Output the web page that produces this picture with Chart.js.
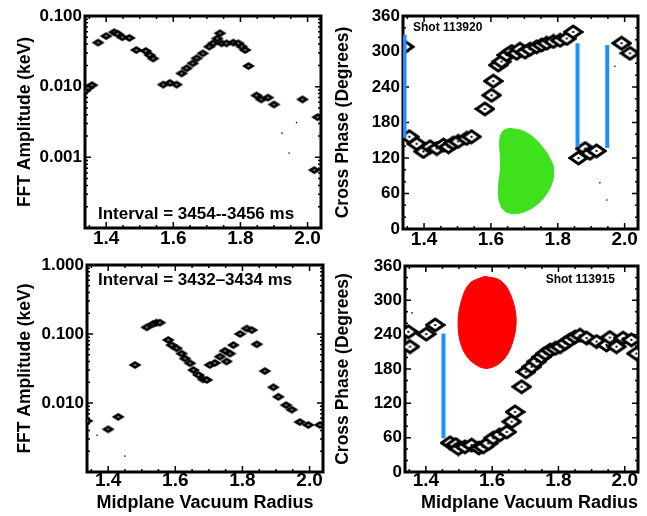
<!DOCTYPE html>
<html>
<head>
<meta charset="utf-8">
<script src="https://cdn.jsdelivr.net/npm/chart.js@4.4.1/dist/chart.umd.min.js"></script>
<style>
  body { margin: 0; background: #fff; }
  #page { position: relative; width: 647px; height: 516px; overflow: hidden; }
  .panel { position: absolute; }
</style>
</head>
<body>
<div id="page">
  <div class="panel" style="left:0;top:0"><canvas id="ampTop" width="330" height="250"></canvas></div>
  <div class="panel" style="left:330px;top:0"><canvas id="phaseTop" width="317" height="250"></canvas></div>
  <div class="panel" style="left:0;top:250px"><canvas id="ampBottom" width="330" height="266"></canvas></div>
  <div class="panel" style="left:330px;top:250px"><canvas id="phaseBottom" width="317" height="266"></canvas></div>
</div>
<script>
// Radius axis, shared by the four panels
const radiusMin = 1.337;
const radiusMax = 2.04;
const radiusTicks = [1.4, 1.6, 1.8, 2.0];

// Top left: FFT amplitude, 3454--3456 ms
const ampTopR = [1.338, 1.346, 1.358, 1.376, 1.400, 1.424, 1.434, 1.448, 1.469, 1.490, 1.518, 1.530, 1.540,
  1.570, 1.590, 1.610, 1.625, 1.640, 1.658, 1.670, 1.688, 1.707, 1.719, 1.731, 1.739, 1.744, 1.759, 1.779,
  1.794, 1.804, 1.814, 1.824, 1.848, 1.862, 1.882, 1.900, 1.985, 2.030, 2.020];
const ampTopV = [0.0088, 0.0096, 0.0105, 0.042, 0.052, 0.059, 0.056, 0.050, 0.049, 0.033, 0.032, 0.028, 0.025,
  0.0107, 0.0113, 0.0107, 0.0154, 0.0182, 0.0214, 0.0252, 0.0296, 0.0368, 0.041, 0.048, 0.057, 0.041, 0.041, 0.042,
  0.041, 0.037, 0.033, 0.0196, 0.0075, 0.0066, 0.0070, 0.0056, 0.0066, 0.0037, 0.00066];
const ampTopDotR = [1.924, 1.945, 1.967];
const ampTopDotV = [0.0022, 0.00115, 0.0031];
const ampTopTicks = [0.001, 0.01, 0.1];

// Top right: cross phase, shot 113920
const phaseTopR = [1.341, 1.356, 1.378, 1.398, 1.418, 1.438, 1.458, 1.473, 1.487, 1.502, 1.527, 1.542,
  1.582, 1.602, 1.607, 1.622, 1.632, 1.647, 1.662, 1.677, 1.687, 1.702, 1.717, 1.737, 1.752, 1.767, 1.787,
  1.807, 1.827, 1.846, 1.862, 1.882, 1.896, 1.916, 1.991, 2.016];
const phaseTopV = [308, 156, 144, 131, 139, 136, 142, 139, 145, 148, 153, 156,
  203, 226, 250, 277, 283, 294, 300, 297, 304, 299, 304, 308, 311, 314, 317,
  319, 322, 333, 120, 136, 128, 132, 314, 297];
const phaseTopDotR = [1.971, 1.926, 1.947];
const phaseTopDotV = [275, 78, 49];
const phaseTopJumps = [[1.3415, 154, 328], [1.859, 139, 314], [1.948, 137, 311]];
const greenR = [1.657, 1.690, 1.725, 1.755, 1.778, 1.788, 1.783, 1.765, 1.735, 1.700, 1.667, 1.640, 1.626,
  1.622, 1.625, 1.629, 1.628, 1.626, 1.630, 1.642, 1.657];
const greenV = [170, 167, 156, 138, 118, 100, 78, 58, 40, 29, 26, 31, 45,
  62, 85, 105, 125, 145, 160, 168, 170];

// Bottom left: FFT amplitude, 3432-3434 ms
const ampBottomR = [1.337, 1.400, 1.430, 1.480, 1.515, 1.534, 1.544, 1.554, 1.579, 1.589, 1.604, 1.619, 1.629,
  1.644, 1.654, 1.669, 1.683, 1.694, 1.703, 1.718, 1.733, 1.748, 1.753, 1.763, 1.773, 1.793, 1.813, 1.828,
  1.843, 1.867, 1.892, 1.907, 1.930, 1.947, 1.971, 1.996, 2.031];
const ampBottomV = [0.0055, 0.00416, 0.0063, 0.0356, 0.125, 0.140, 0.146, 0.146, 0.082, 0.069, 0.062, 0.052, 0.044,
  0.0376, 0.030, 0.0255, 0.022, 0.0216, 0.0356, 0.038, 0.047, 0.057, 0.040, 0.052, 0.069, 0.100, 0.120, 0.114,
  0.071, 0.029, 0.0169, 0.0123, 0.0093, 0.0080, 0.0053, 0.0048, 0.0048];
const ampBottomDotR = [1.367, 1.450];
const ampBottomDotV = [0.0034, 0.0017];
const ampBottomTicks = [0.01, 0.1, 1];

// Bottom right: cross phase, shot 113915
const phaseBottomR = [1.347, 1.352, 1.401, 1.428, 1.473, 1.490, 1.498, 1.518, 1.538, 1.560, 1.573, 1.588, 1.603,
  1.623, 1.644, 1.659, 1.669, 1.689, 1.702, 1.719, 1.734, 1.749, 1.760, 1.775, 1.790, 1.805, 1.820, 1.835,
  1.850, 1.865, 1.885, 1.915, 1.945, 1.955, 1.975, 1.995, 2.020, 2.035];
const phaseBottomV = [245, 219, 241, 257, 51, 48, 41, 44, 47, 42, 44, 50, 59,
  65, 70, 88, 105, 149, 175, 184, 193, 201, 207, 213, 216, 219, 225, 231,
  236, 239, 234, 228, 222, 235, 219, 234, 231, 207];
const phaseBottomDotR = [1.358];
const phaseBottomDotV = [278];
const phaseBottomJumps = [[1.453, 59, 242]];
const redR = [1.578, 1.624, 1.654, 1.672, 1.664, 1.634, 1.584, 1.538, 1.508, 1.497, 1.508, 1.533, 1.578];
const redV = [342, 335, 312, 271, 231, 196, 181, 193, 219, 260, 301, 330, 342];

const phaseTicks = [0, 60, 120, 180, 240, 300, 360];

const radiusTitle = 'Midplane Vacuum Radius';
const ampTitle = 'FFT Amplitude (keV)';
const phaseTitle = 'Cross Phase (Degrees)';
const intervalTop = 'Interval = 3454--3456 ms';
const intervalBottom = 'Interval = 3432\u20133434 ms';
const shotTop = 'Shot 113920';
const shotBottom = 'Shot 113915';

const FONT = "'Liberation Sans', Arial, sans-serif";

Chart.defaults.color = '#000';
Chart.defaults.font.family = FONT;

function diamond(w, h, filled) {
  const c = document.createElement('canvas');
  c.width = w + 4;
  c.height = h + 4;
  const g = c.getContext('2d');
  const cx = c.width / 2, cy = c.height / 2;
  g.beginPath();
  g.moveTo(cx - w / 2, cy);
  g.lineTo(cx, cy - h / 2);
  g.lineTo(cx + w / 2, cy);
  g.lineTo(cx, cy + h / 2);
  g.closePath();
  if (filled) {
    g.fillStyle = '#000';
    g.fill();
    g.fillStyle = '#fff';
    g.fillRect(cx - 1, cy - 0.5, 2, 1);
  } else {
    g.fillStyle = '#fff';
    g.fill();
    g.lineWidth = 3;
    g.strokeStyle = '#000';
    g.stroke();
    g.fillStyle = '#000';
    g.fillRect(cx - 1, cy - 1, 2, 2);
  }
  return c;
}

const smallMark = diamond(13, 8, true);
const bigMark = diamond(17, 12, false);

function zip(xs, ys) {
  return xs.map((x, i) => ({ x: x, y: ys[i] }));
}

function radiusMinor() {
  const out = [];
  for (let i = 27; i <= 40; i++) out.push(i * 0.05);
  return out;
}

function logMinor(min, max) {
  const out = [];
  for (let e = Math.round(Math.log10(min)); Math.pow(10, e) < max; e++) {
    for (let k = 2; k < 10; k++) out.push(k * Math.pow(10, e));
  }
  return out;
}

function linMinor(step, max) {
  const out = [];
  for (let v = 0; v <= max; v += step) out.push(v);
  return out;
}

// box with inward ticks (under the data) and the text notes
const framePlugin = {
  id: 'frame',
  beforeDatasetsDraw(chart, args, opts) {
    const { ctx, chartArea: a, scales: { x, y } } = chart;
    ctx.save();
    ctx.strokeStyle = '#000';
    ctx.lineWidth = 1.5;
    ctx.beginPath();
    const xt = (list, len) => list.forEach(v => {
      const p = x.getPixelForValue(v);
      if (p < a.left || p > a.right) return;
      ctx.moveTo(p, a.bottom); ctx.lineTo(p, a.bottom - len);
      ctx.moveTo(p, a.top); ctx.lineTo(p, a.top + len);
    });
    const yt = (list, len) => list.forEach(v => {
      const p = y.getPixelForValue(v);
      if (p < a.top || p > a.bottom) return;
      ctx.moveTo(a.left, p); ctx.lineTo(a.left + len, p);
      ctx.moveTo(a.right, p); ctx.lineTo(a.right - len, p);
    });
    xt(radiusMinor(), 3);
    xt(radiusTicks, 6);
    yt(opts.yMinor, 3);
    yt(opts.yMajor, 6);
    ctx.stroke();
    ctx.lineWidth = 3;
    ctx.strokeRect(a.left, a.top, a.right - a.left, a.bottom - a.top);
    ctx.fillStyle = '#000';
    ctx.textBaseline = 'middle';
    opts.notes.forEach(n => {
      ctx.font = n.font;
      ctx.textAlign = n.align;
      const px = n.align === 'right' ? a.right - n.dx : a.left + n.dx;
      const py = n.dy >= 0 ? a.top + n.dy : a.bottom + n.dy;
      ctx.fillText(n.text, px, py);
    });
    ctx.restore();
  }
};

function makePanel(id, p) {
  const canvas = document.getElementById(id);
  const W = canvas.width, H = canvas.height;
  const [left, top, right, bottom] = p.area;
  const yScale = p.log ? {
    type: 'logarithmic',
    min: p.yMin,
    max: p.yMax,
    ticks: { callback: v => v.toFixed(3) }
  } : {
    type: 'linear',
    min: 0,
    max: 360,
    ticks: { callback: v => String(v) }
  };
  Object.assign(yScale.ticks, { font: { size: 17, weight: 'bold' }, padding: 3 });
  Object.assign(yScale, {
    afterBuildTicks: s => { s.ticks = p.yTicks.map(v => ({ value: v })); },
    grid: { display: false, drawTicks: false },
    border: { display: false },
    title: {
      display: true,
      text: p.yTitle,
      font: { size: 17.5, weight: 'bold', lineHeight: 1.2 },
      padding: { top: p.yTitlePad, bottom: 0 }
    },
    afterFit: s => { s.width = left; s.paddingTop = 0; s.paddingBottom = 0; }
  });

  const datasets = [];
  (p.jumps || []).forEach(j => {
    datasets.push({
      data: [{ x: j[0], y: j[1] }, { x: j[0], y: j[2] }],
      showLine: true,
      borderColor: '#1e8fff',
      borderWidth: 4,
      pointRadius: 0,
      clip: 0
    });
  });
  datasets.push({
    data: zip(p.r, p.v),
    pointStyle: p.log ? smallMark : bigMark,
    pointRadius: 5,
    clip: 0
  }, {
    data: zip(p.dotR, p.dotV),
    pointStyle: 'circle',
    pointRadius: 0.8,
    backgroundColor: '#000',
    borderWidth: 0,
    clip: 0
  });
  if (p.blobR) {
    datasets.push({
      data: zip(p.blobR, p.blobV),
      showLine: true,
      tension: 0.35,
      fill: 'shape',
      backgroundColor: p.blobColor,
      borderColor: p.blobColor,
      borderWidth: 1,
      pointRadius: 0
    });
  }

  return new Chart(canvas, {
    type: 'scatter',
    data: { datasets: datasets },
    options: {
      responsive: false,
      animation: false,
      devicePixelRatio: 1,
      layout: { padding: { left: 0, top: top, right: W - right, bottom: 0 } },
      plugins: {
        legend: { display: false },
        tooltip: { enabled: false },
        frame: { notes: p.notes, yMajor: p.yTicks, yMinor: p.yMinor }
      },
      scales: {
        x: {
          type: 'linear',
          min: radiusMin,
          max: radiusMax,
          afterBuildTicks: s => { s.ticks = radiusTicks.map(v => ({ value: v })); },
          ticks: {
            callback: v => v.toFixed(1),
            maxRotation: 0,
            font: { size: 19, weight: 'bold', lineHeight: 1 },
            padding: p.xTickPad
          },
          grid: { display: false, drawTicks: false },
          border: { display: false },
          title: {
            display: !!p.xTitle,
            text: p.xTitle || '',
            align: p.xTitleAlign || 'center',
            font: { size: 18, weight: 'bold', lineHeight: 1.2 },
            padding: { top: 0, bottom: 2 }
          },
          afterFit: s => { s.height = H - bottom; s.paddingLeft = 0; s.paddingRight = 0; }
        },
        y: yScale
      }
    },
    plugins: [framePlugin]
  });
}

makePanel('ampTop', {
  area: [85, 16, 321, 228],
  log: true, yMin: 0.0001, yMax: 0.1, yTicks: ampTopTicks, yMinor: logMinor(0.0001, 0.1),
  yTitle: ampTitle, yTitlePad: 14.5, xTickPad: 1.5,
  r: ampTopR, v: ampTopV, dotR: ampTopDotR, dotV: ampTopDotV,
  notes: [{ text: intervalTop, font: 'bold 17px ' + FONT, align: 'left', dx: 13, dy: -14 }]
});

makePanel('phaseTop', {
  area: [73, 16, 308, 229],
  log: false, yTicks: phaseTicks, yMinor: linMinor(20, 360),
  yTitle: phaseTitle, yTitlePad: 2.5, xTickPad: 1.5,
  r: phaseTopR, v: phaseTopV, dotR: phaseTopDotR, dotV: phaseTopDotV,
  jumps: phaseTopJumps, blobR: greenR, blobV: greenV, blobColor: '#3fe01c',
  notes: [{ text: shotTop, font: 'bold 12px ' + FONT, align: 'left', dx: 10, dy: 12 }]
});

makePanel('ampBottom', {
  area: [87, 15, 323, 222],
  log: true, yMin: 0.001, yMax: 1, yTicks: ampBottomTicks, yMinor: logMinor(0.001, 1),
  yTitle: ampTitle, yTitlePad: 14.5, xTickPad: -1, xTitle: radiusTitle,
  r: ampBottomR, v: ampBottomV, dotR: ampBottomDotR, dotV: ampBottomDotV,
  notes: [{ text: intervalBottom, font: 'bold 17px ' + FONT, align: 'left', dx: 11, dy: 15 }]
});

makePanel('phaseBottom', {
  area: [75, 16, 308, 222],
  log: false, yTicks: phaseTicks, yMinor: linMinor(20, 360),
  yTitle: phaseTitle, yTitlePad: 2.5, xTickPad: -1, xTitle: radiusTitle, xTitleAlign: 'end',
  r: phaseBottomR, v: phaseBottomV, dotR: phaseBottomDotR, dotV: phaseBottomDotV,
  jumps: phaseBottomJumps, blobR: redR, blobV: redV, blobColor: '#ff0000',
  notes: [{ text: shotBottom, font: 'bold 12px ' + FONT, align: 'right', dx: 23, dy: 14 }]
});
</script>
</body>
</html>
